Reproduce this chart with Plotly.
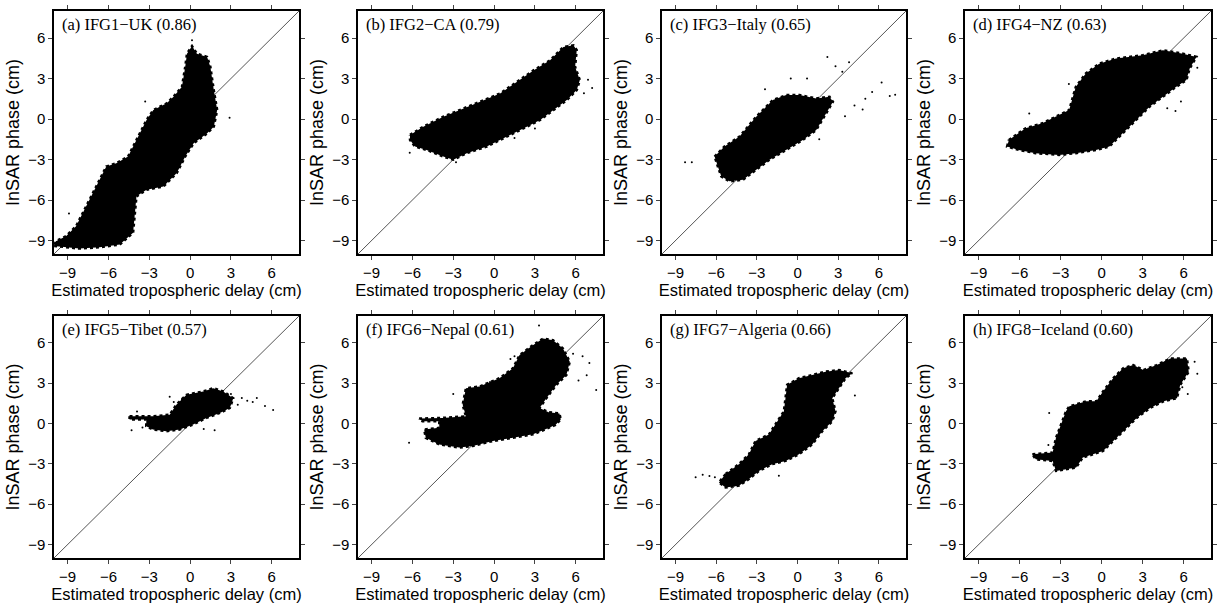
import plotly.graph_objects as go

# ---- panel titles ----
TITLES = ["(a) IFG1\u2212UK (0.86)", "(b) IFG2\u2212CA (0.79)", "(c) IFG3\u2212Italy (0.65)",
          "(d) IFG4\u2212NZ (0.63)", "(e) IFG5\u2212Tibet (0.57)", "(f) IFG6\u2212Nepal (0.61)",
          "(g) IFG7\u2212Algeria (0.66)", "(h) IFG8\u2212Iceland (0.60)"]
TICKS = [-9, -6, -3, 0, 3, 6]
TICK_LABELS = ["\u22129", "\u22126", "\u22123", "0", "3", "6"]
AXIS_RANGE = [-10, 8]

# ---- point-cloud outlines (estimated delay x, InSAR phase y) ----
A_X = [-9.99, -8.14, -6.65, -5.17, -4.19, -4.06, -3.94, -3.2, -1.96, -0.98, -0.36, 0.26, 1.25, 1.74, 1.99,
       1.74, 1.49, 1.25, 0.5, 0.14, -0.23, -0.36, -0.6, -1.22, -1.72, -2.7, -3.2, -3.94, -4.56, -5.42, -6.16,
       -6.9, -7.64, -8.38, -9.12, -9.86]
A_Y = [-9.4, -9.6, -9.5, -9.3, -8.43, -6.96, -5.73, -5.24, -5.0, -4.0, -2.78, -1.8, -1.06, -0.57, 0.66,
       2.14, 3.86, 4.6, 4.84, 5.4, 4.84, 3.86, 2.39, 1.65, 1.16, 0.66, -0.07, -1.55, -2.78, -3.27, -3.52,
       -5.0, -6.47, -7.94, -8.68, -9.05]
A_PX = [0.14, 2.9, -3.3, -1.2, -0.6, -8.9]
A_PY = [5.83, 0.1, 1.3, -2.7, -2.4, -7.0]

B_X = [-6.18, -5.2, -3.73, -2.5, -1.03, 0.44, 1.91, 2.89, 4.11, 5.09, 5.83, 6.07, 5.95, 6.3, 6.07, 5.34,
       4.36, 3.38, 2.4, 0.93, -0.54, -2.01, -3.0, -3.73, -4.96, -5.81, -6.18]
B_Y = [-1.18, -0.57, 0.17, 0.66, 1.28, 1.89, 2.88, 3.6, 4.35, 5.34, 5.46, 5.1, 3.86, 2.88, 2.14, 1.4,
       0.66, -0.07, -0.57, -1.3, -2.04, -2.53, -3.02, -2.78, -2.29, -2.04, -1.55]
B_PX = [6.9, 7.2, 6.6, 3.0, -2.8, -6.2, 1.5]
B_PY = [2.9, 2.3, 1.9, -0.7, -3.2, -2.5, -1.4]

C_X = [-6.12, -5.39, -4.28, -3.05, -1.82, -0.84, 0.15, 1.38, 2.36, 2.61, 2.11, 1.38, 0.39, -0.84, -2.07,
       -3.05, -4.03, -5.02, -5.63, -5.88]
C_Y = [-2.78, -2.04, -1.3, 0.17, 1.4, 1.77, 1.77, 1.52, 1.65, 1.28, 0.42, -0.81, -1.55, -2.29, -3.02,
       -3.76, -4.5, -4.62, -4.25, -3.52]
C_PX = [-8.3, -7.8, 2.2, 5.0, 5.5, 6.2, 7.2, 6.8, 4.8, 3.8, 3.3, 0.7, -0.5, -2.4, 3.5, 4.2, 2.8, 1.6]
C_PY = [-3.2, -3.2, 4.6, 1.5, 2.0, 2.7, 1.8, 1.7, 0.7, 4.2, 3.5, 3.0, 3.0, 2.2, 0.2, 1.0, 3.9, -1.5]

D_X = [-6.79, -5.57, -4.34, -3.36, -2.38, -1.89, -1.16, -0.18, 1.05, 3.0, 4.48, 5.95, 6.93, 6.44, 6.2,
       5.46, 4.48, 3.5, 2.52, 1.54, 0.56, -0.42, -1.89, -3.12, -4.83, -6.06, -6.92]
D_Y = [-1.55, -0.69, -0.32, 0.17, 0.66, 2.39, 3.37, 4.1, 4.48, 4.72, 5.09, 4.84, 4.6, 3.74, 2.88,
       2.39, 1.65, 0.91, -0.07, -1.06, -2.04, -2.29, -2.53, -2.66, -2.53, -2.29, -2.04]
D_PX = [-2.4, -2.0, 4.8, 5.4, 5.8, 7.0, -5.3]
D_PY = [2.6, 2.0, 0.8, 0.6, 1.3, 3.8, 0.4]

E_X = [-4.45, -2.73, -1.5, -1.01, -0.27, 0.96, 1.7, 2.43, 3.17, 2.92, 2.19, 1.2, 0.22, -0.76, -1.75,
       -2.73, -3.22, -3.22, -4.45]
E_Y = [0.54, 0.54, 0.66, 1.4, 2.14, 2.39, 2.63, 2.39, 1.89, 1.16, 0.79, 0.42, -0.07, -0.44, -0.57,
       -0.44, -0.2, 0.3, 0.3]
E_PX = [6.1, 5.5, 4.6, 4.2, 3.8, 3.5, -4.3, -3.5, -1.5, -0.6, 1.0, 1.8, -3.9, -1.2, 4.9, 3.0]
E_PY = [1.0, 1.3, 1.6, 1.7, 1.9, 1.4, -0.5, -0.3, 2.0, 1.8, -0.4, -0.5, 0.9, 1.6, 1.9, 2.2]

F_X = [-5.51, -3.79, -2.07, -2.31, -2.07, -1.08, 0.39, 1.38, 1.87, 2.85, 3.59, 4.33, 5.06, 5.56, 5.31,
       4.57, 3.84, 3.34, 4.0, 4.8, 4.9, 4.5, 3.6, 2.85, 1.38, -0.1, -1.57, -2.56, -4.03, -5.02, -5.14,
       -4.03, -4.03, -5.27]
F_Y = [0.37, 0.42, 0.54, 1.4, 2.63, 2.75, 3.37, 4.11, 5.09, 5.83, 6.32, 6.2, 5.58, 4.6, 3.61,
       2.88, 1.89, 1.16, 0.85, 0.75, 0.3, -0.1, -0.5, -0.8, -1.06, -1.3, -1.67, -1.79, -1.55, -1.06, -0.44,
       -0.32, 0.17, 0.17]
F_PX = [-6.25, 3.3, 6.5, 7.0, 7.5, 6.2, 1.5, 2.0, 1.2, 2.5, 5.8, 6.8, -0.3, -3.0]
F_PY = [-1.43, 7.3, 5.0, 4.5, 2.5, 3.2, 5.0, 4.5, 4.8, 5.5, 5.2, 3.6, 3.1, 2.2]

G_X = [-5.31, -4.33, -3.59, -3.1, -2.11, -1.62, -1.01, -0.89, -0.77, 0.1, 1.08, 2.06, 3.05, 4.03, 3.54,
       3.05, 2.56, 2.8, 2.56, 1.82, 1.08, 0.1, -0.89, -1.87, -2.85, -3.59, -4.33, -5.31, -5.8]
G_Y = [-3.76, -3.02, -2.29, -1.3, -0.81, -0.07, 0.91, 1.89, 2.88, 3.37, 3.61, 3.86, 3.98, 3.74, 3.37,
       2.63, 1.89, 0.91, 0.17, -0.57, -1.55, -2.29, -2.78, -3.02, -3.52, -4.13, -4.62, -4.75, -4.38]
G_PX = [-7.52, -7.0, -6.5, -6.1, -4.0, -3.5, -1.38, 4.23, 2.4, 2.2]
G_PY = [-4.0, -3.8, -3.9, -4.0, -4.1, -3.9, -3.88, 2.09, 2.1, 1.9]

H_X = [-5.07, -3.59, -3.34, -2.61, -2.36, -1.13, -0.39, 0.1, 0.84, 1.57, 2.31, 3.05, 4.03, 5.02, 6.24,
       6.37, 5.75, 5.51, 4.52, 3.54, 2.56, 1.57, 0.84, 0.1, -1.38, -1.87, -3.34, -3.59, -4.82]
H_Y = [-2.29, -2.16, -1.06, 0.91, 1.28, 1.65, 1.65, 2.39, 3.37, 4.11, 4.35, 3.98, 4.35, 4.84, 4.84,
       3.86, 2.88, 1.89, 1.65, 1.16, 0.42, -0.57, -1.3, -2.04, -2.53, -3.27, -3.52, -2.78, -2.66]
H_PX = [-3.9, -3.84, 6.8, 7.0, 5.9, 6.3]
H_PY = [-1.6, 0.79, 4.6, 3.7, 2.7, 2.2]

CLOUDS = [(A_X, A_Y, A_PX, A_PY), (B_X, B_Y, B_PX, B_PY), (C_X, C_Y, C_PX, C_PY), (D_X, D_Y, D_PX, D_PY),
          (E_X, E_Y, E_PX, E_PY), (F_X, F_Y, F_PX, F_PY), (G_X, G_Y, G_PX, G_PY), (H_X, H_Y, H_PX, H_PY)]

# ---- layout geometry (pixels in a 1225x605 page) ----
W, H = 1225, 605
COL_PX = [(54, 299), (358, 603), (662, 906), (965, 1211)]
ROW_PX = [(11, 254), (316, 558)]

SANS = "Liberation Sans, Arial, sans-serif"
SERIF = "Liberation Serif, Times New Roman, serif"

fig = go.Figure()
annotations = []
for i in range(8):
    r, c = divmod(i, 4)
    n = "" if i == 0 else str(i + 1)
    xa, ya = "x" + n, "y" + n
    cx, cy, px, py = CLOUDS[i]
    # diagonal 1:1 line
    fig.add_trace(go.Scatter(x=AXIS_RANGE, y=AXIS_RANGE, mode="lines",
                             line=dict(color="#555555", width=1), xaxis=xa, yaxis=ya,
                             showlegend=False, hoverinfo="skip"))
    # dense cloud outline
    fig.add_trace(go.Scatter(x=cx + [cx[0]], y=cy + [cy[0]], mode="lines", fill="toself",
                             fillcolor="black", line=dict(color="black", width=2.5, dash="dot"),
                             xaxis=xa, yaxis=ya, showlegend=False))
    # sparse points
    fig.add_trace(go.Scatter(x=px, y=py, mode="markers", marker=dict(color="black", size=2),
                             xaxis=xa, yaxis=ya, showlegend=False))
    x0, x1 = COL_PX[c]
    y0, y1 = ROW_PX[r]
    common = dict(range=AXIS_RANGE, tickvals=TICKS, ticktext=TICK_LABELS, ticks="outside",
                  ticklen=4, tickwidth=1, tickcolor="#444", showline=True, linecolor="black",
                  linewidth=1.5, mirror="ticks", showgrid=False, zeroline=False,
                  tickfont=dict(family=SANS, size=15, color="black"),
                  automargin=False, fixedrange=True)
    fig.update_layout(**{
        ("xaxis" + n): dict(domain=[x0 / W, x1 / W], anchor=ya,
                            title=dict(text="Estimated tropospheric delay (cm)", standoff=1,
                                       font=dict(family=SANS, size=16.5, color="black")),
                            **common),
        ("yaxis" + n): dict(domain=[1 - y1 / H, 1 - y0 / H], anchor=xa,
                            title=dict(text="InSAR phase (cm)", standoff=4,
                                       font=dict(family=SANS, size=18, color="black")),
                            **common),
    })
    annotations.append(dict(text=TITLES[i], x=-9.55, y=6.97, xref=xa, yref=ya, xanchor="left",
                            yanchor="middle", showarrow=False,
                            font=dict(family=SERIF, size=16.5, color="black")))

fig.update_layout(width=W, height=H, margin=dict(l=0, r=0, t=0, b=0), template="none",
                  paper_bgcolor="white", plot_bgcolor="white", annotations=annotations,
                  showlegend=False)
fig.write_html("out.html", config={"displayModeBar": False},
               post_script="document.body.style.margin='0px';")
